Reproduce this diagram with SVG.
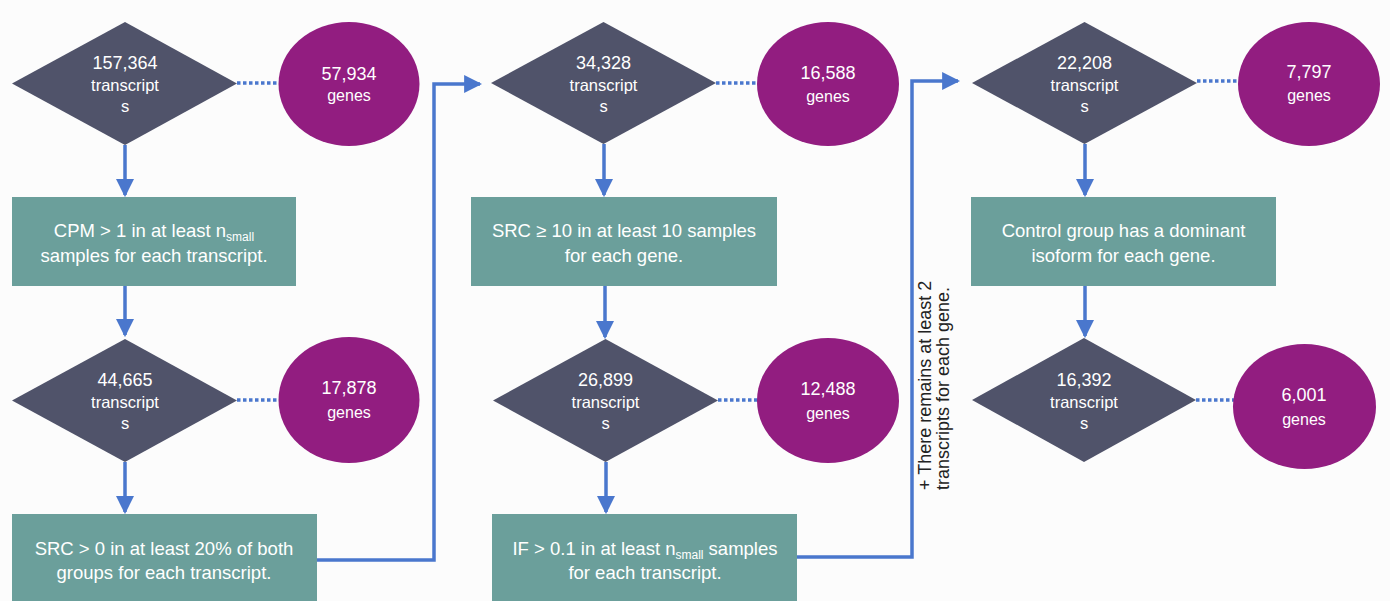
<svg xmlns="http://www.w3.org/2000/svg" width="1390" height="601" viewBox="0 0 1390 601">
<style>
.bg{fill:#fcfcfc}
.dia{fill:#50536a}
.cir{fill:#921d80}
.box{fill:#6b9f9b}
.t{font-family:"Liberation Sans",Arial,sans-serif;fill:#ffffff;text-anchor:middle}
.num{font-size:18px}
.tr{font-size:16.5px}
.gn{font-size:16px}
.bx{font-size:18.5px}
.sub{font-size:12px}
.flow{fill:none;stroke:#4a77cd;stroke-width:3.5}
.dot{fill:none;stroke:#4a77cd;stroke-width:3.5;stroke-dasharray:3.5 2.5}
.note{font-family:"Liberation Sans",Arial,sans-serif;font-size:18px;fill:#222222}
</style>
<defs>
<marker id="ah" markerUnits="userSpaceOnUse" markerWidth="18" markerHeight="18" viewBox="0 0 17 17" refX="15" refY="8.5" orient="auto">
<path d="M0,0 L17,8.5 L0,17 z" fill="#4a77cd"/>
</marker>
</defs>
<rect class="bg" x="0" y="0" width="1390" height="601"/>

<g id="connectors">
<line class="flow" x1="125" y1="145" x2="125" y2="195" marker-end="url(#ah)"/>
<line class="flow" x1="125" y1="286" x2="125" y2="335" marker-end="url(#ah)"/>
<line class="flow" x1="125" y1="462" x2="125" y2="512" marker-end="url(#ah)"/>
<polyline class="flow" points="317,560 434,560 434,84 480,84" marker-end="url(#ah)"/>
<line class="flow" x1="604" y1="144" x2="604" y2="195" marker-end="url(#ah)"/>
<line class="flow" x1="605" y1="286" x2="605" y2="337" marker-end="url(#ah)"/>
<line class="flow" x1="606" y1="462" x2="606" y2="512" marker-end="url(#ah)"/>
<polyline class="flow" points="797,557 912,557 912,81 958,81" marker-end="url(#ah)"/>
<line class="flow" x1="1085" y1="144" x2="1085" y2="195" marker-end="url(#ah)"/>
<line class="flow" x1="1085" y1="286" x2="1085" y2="336" marker-end="url(#ah)"/>
<line class="dot" x1="237" y1="83" x2="279" y2="83"/>
<line class="dot" x1="237" y1="400" x2="279" y2="400"/>
<line class="dot" x1="716" y1="83" x2="758" y2="83"/>
<line class="dot" x1="718" y1="400" x2="758" y2="400"/>
<line class="dot" x1="1197" y1="81" x2="1239" y2="81"/>
<line class="dot" x1="1196" y1="400" x2="1234" y2="400"/>
</g>

<g id="note">
<text class="note" transform="translate(931,490) rotate(-90)">+ There remains at least 2</text>
<text class="note" transform="translate(949,490) rotate(-90)">transcripts for each gene.</text>
</g>

<g id="d1">
<polygon class="dia" points="125,22 237,83.5 125,145 12,83.5"/>
<text class="t num" x="125" y="69">157,364</text>
<text class="t tr" x="125" y="91">transcript</text>
<text class="t tr" x="125" y="112">s</text>
</g>
<g id="c1">
<ellipse class="cir" cx="349" cy="84" rx="70.5" ry="62"/>
<text class="t num" x="349" y="80">57,934</text>
<text class="t gn" x="349" y="101">genes</text>
</g>
<g id="r1">
<rect class="box" x="12" y="197" width="284" height="89"/>
<text class="t bx" x="154" y="237">CPM &gt; 1 in at least n<tspan class="sub" dy="4">small</tspan></text>
<text class="t bx" x="154" y="262">samples for each transcript.</text>
</g>
<g id="d2">
<polygon class="dia" points="125,339 237,400.5 125,462 12,400.5"/>
<text class="t num" x="125" y="386">44,665</text>
<text class="t tr" x="125" y="408">transcript</text>
<text class="t tr" x="125" y="429">s</text>
</g>
<g id="c2">
<ellipse class="cir" cx="349" cy="400" rx="70.5" ry="63"/>
<text class="t num" x="349" y="394">17,878</text>
<text class="t gn" x="349" y="418">genes</text>
</g>
<g id="r2">
<rect class="box" x="12" y="514" width="305" height="90"/>
<text class="t bx" x="164" y="555">SRC &gt; 0 in at least 20% of both</text>
<text class="t bx" x="164" y="579">groups for each transcript.</text>
</g>

<g id="d3">
<polygon class="dia" points="603.5,22 716,83 603.5,144 491,83"/>
<text class="t num" x="603.5" y="69">34,328</text>
<text class="t tr" x="603.5" y="91">transcript</text>
<text class="t tr" x="603.5" y="112">s</text>
</g>
<g id="c3">
<ellipse class="cir" cx="828" cy="84" rx="71" ry="62"/>
<text class="t num" x="828" y="79">16,588</text>
<text class="t gn" x="828" y="102">genes</text>
</g>
<g id="r3">
<rect class="box" x="471" y="197" width="306" height="89"/>
<text class="t bx" x="624" y="237">SRC ≥ 10 in at least 10 samples</text>
<text class="t bx" x="624" y="262">for each gene.</text>
</g>
<g id="d4">
<polygon class="dia" points="605.5,339 718,400.5 605.5,462 493,400.5"/>
<text class="t num" x="605.5" y="386">26,899</text>
<text class="t tr" x="605.5" y="408">transcript</text>
<text class="t tr" x="605.5" y="429">s</text>
</g>
<g id="c4">
<ellipse class="cir" cx="828" cy="400.5" rx="71" ry="62.5"/>
<text class="t num" x="828" y="395">12,488</text>
<text class="t gn" x="828" y="419">genes</text>
</g>
<g id="r4">
<rect class="box" x="492" y="514" width="305" height="90"/>
<text class="t bx" x="645" y="555">IF &gt; 0.1 in at least n<tspan class="sub" dy="4">small</tspan><tspan dy="-4"> samples</tspan></text>
<text class="t bx" x="645" y="579">for each transcript.</text>
</g>

<g id="d5">
<polygon class="dia" points="1084.5,22 1197,83 1084.5,144 972,83"/>
<text class="t num" x="1084.5" y="69">22,208</text>
<text class="t tr" x="1084.5" y="91">transcript</text>
<text class="t tr" x="1084.5" y="112">s</text>
</g>
<g id="c5">
<ellipse class="cir" cx="1309" cy="84" rx="71" ry="62"/>
<text class="t num" x="1309" y="78">7,797</text>
<text class="t gn" x="1309" y="101">genes</text>
</g>
<g id="r5">
<rect class="box" x="971" y="197" width="305" height="89"/>
<text class="t bx" x="1123.5" y="237">Control group has a dominant</text>
<text class="t bx" x="1123.5" y="262">isoform for each gene.</text>
</g>
<g id="d6">
<polygon class="dia" points="1084,338 1196,400 1084,462 972,400"/>
<text class="t num" x="1084" y="386">16,392</text>
<text class="t tr" x="1084" y="408">transcript</text>
<text class="t tr" x="1084" y="429">s</text>
</g>
<g id="c6">
<ellipse class="cir" cx="1304.5" cy="406.5" rx="71.5" ry="62.5"/>
<text class="t num" x="1304" y="401">6,001</text>
<text class="t gn" x="1304" y="425">genes</text>
</g>
</svg>
